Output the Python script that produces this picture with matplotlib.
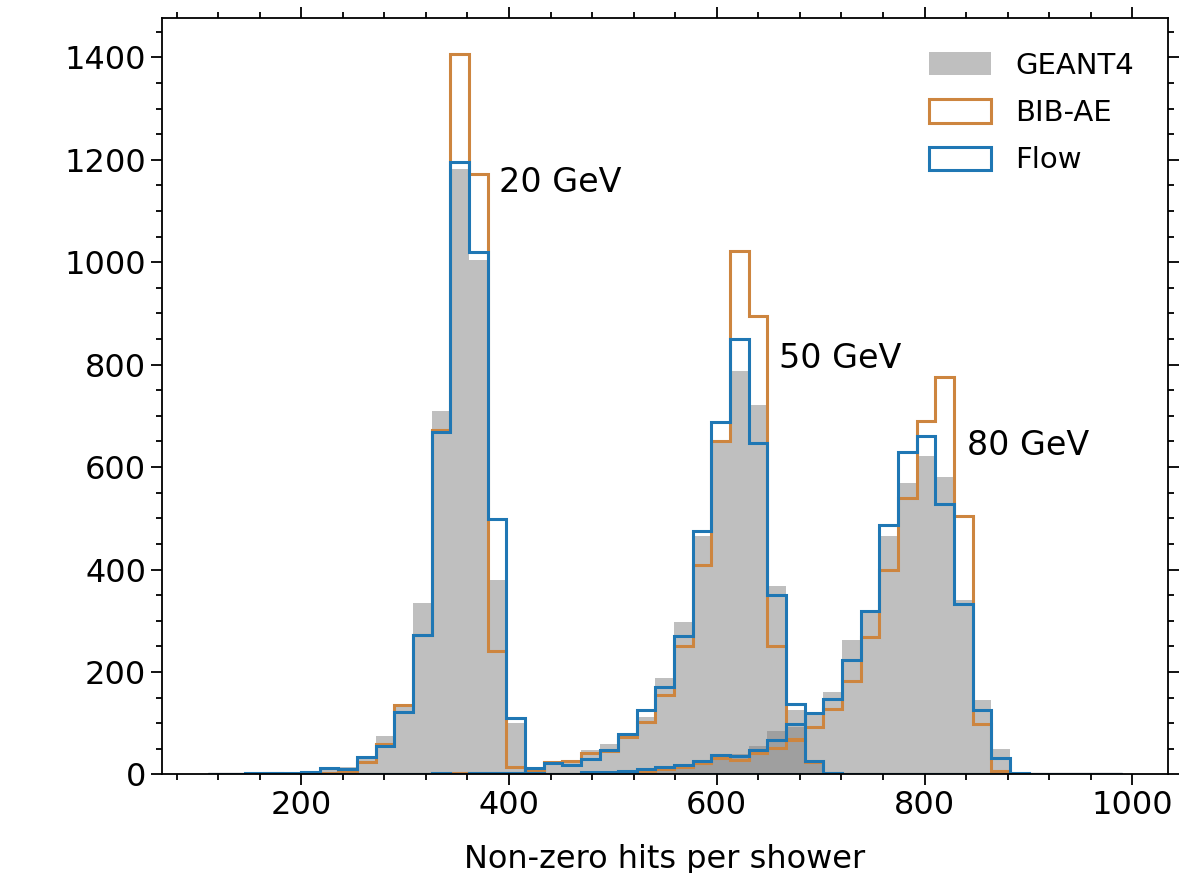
import numpy as np
import matplotlib
matplotlib.use("Agg")
import matplotlib.pyplot as plt
from matplotlib.ticker import MultipleLocator

# ---- data -------------------------------------------------------------
bin_edges = np.linspace(110, 990, 50)   # 49 bins
n_bins = len(bin_edges) - 1

def fill(d):
    arr = np.zeros(n_bins)
    for k, v in d.items():
        arr[k] = v
    return arr

# GEANT4
geant4_20 = fill({3: 1, 4: 2, 5: 3, 6: 8, 7: 14, 8: 30, 9: 75, 10: 135, 11: 335, 12: 710,
                  13: 1182, 14: 1005, 15: 380, 16: 100, 17: 4})
geant4_50 = fill({11: 1, 12: 2, 13: 2, 14: 3, 15: 4, 16: 5, 17: 10, 18: 18, 19: 26, 20: 48,
                  21: 60, 22: 80, 23: 112, 24: 188, 25: 298, 26: 466, 27: 647, 28: 788,
                  29: 722, 30: 368, 31: 125, 32: 22, 33: 3})
geant4_80 = fill({20: 3, 21: 4, 22: 6, 23: 8, 24: 12, 25: 18, 26: 25, 27: 32, 28: 40, 29: 55,
                  30: 85, 31: 92, 32: 116, 33: 160, 34: 262, 35: 315, 36: 465, 37: 568,
                  38: 622, 39: 580, 40: 340, 41: 145, 42: 50, 43: 3})
# BIB-AE
bibae_20 = fill({3: 2, 4: 1, 5: 2, 6: 3, 7: 6, 8: 24, 9: 59, 10: 136, 11: 272, 12: 672,
                 13: 1406, 14: 1173, 15: 240, 16: 15, 17: 2})
bibae_50 = fill({11: 1, 12: 1, 13: 2, 14: 2, 15: 3, 16: 3, 17: 8, 18: 25, 19: 26, 20: 42,
                 21: 45, 22: 72, 23: 103, 24: 155, 25: 250, 26: 408, 27: 650, 28: 1021,
                 29: 895, 30: 250, 31: 70, 32: 25, 33: 3})
bibae_80 = fill({20: 2, 21: 3, 22: 5, 23: 7, 24: 10, 25: 15, 26: 23, 27: 31, 28: 29, 29: 42,
                 30: 51, 31: 68, 32: 92, 33: 128, 34: 182, 35: 268, 36: 400, 37: 540,
                 38: 690, 39: 775, 40: 505, 41: 98, 42: 7})
# Flow
flow_20 = fill({1: 1, 2: 2, 3: 3, 4: 3, 5: 5, 6: 13, 7: 11, 8: 33, 9: 55, 10: 122, 11: 272,
                12: 668, 13: 1196, 14: 1020, 15: 498, 16: 110, 17: 3})
flow_50 = fill({11: 1, 12: 2, 13: 1, 14: 2, 15: 3, 16: 3, 17: 13, 18: 22, 19: 19, 20: 30,
                21: 48, 22: 78, 23: 125, 24: 170, 25: 270, 26: 475, 27: 688, 28: 850,
                29: 648, 30: 351, 31: 137, 32: 26, 33: 3})
flow_80 = fill({20: 4, 21: 5, 22: 7, 23: 10, 24: 14, 25: 18, 26: 27, 27: 37, 28: 35, 29: 48,
                30: 68, 31: 99, 32: 119, 33: 147, 34: 223, 35: 319, 36: 486, 37: 630,
                38: 660, 39: 527, 40: 333, 41: 125, 42: 31, 43: 3})

energy_labels = ["20 GeV", "50 GeV", "80 GeV"]
label_pos = [(390, 1155), (660, 812), (841, 642)]
series_names = ["GEANT4", "BIB-AE", "Flow"]

# ---- plot -------------------------------------------------------------
plt.rcParams['font.family'] = ['DejaVu Sans']
fig = plt.figure(figsize=(12, 8.73), dpi=100)
ax = fig.add_axes([0.135, 0.113, 0.838, 0.866])

centers = 0.5 * (bin_edges[:-1] + bin_edges[1:])

for i, h in enumerate([geant4_20, geant4_50, geant4_80]):
    ax.hist(centers, bins=bin_edges, weights=h, histtype='stepfilled',
            color='grey', alpha=0.5, label=series_names[0] if i == 0 else None)
for i, h in enumerate([bibae_20, bibae_50, bibae_80]):
    ax.hist(centers, bins=bin_edges, weights=h, histtype='step',
            color='peru', linewidth=2.2, label=series_names[1] if i == 0 else None)
for i, h in enumerate([flow_20, flow_50, flow_80]):
    ax.hist(centers, bins=bin_edges, weights=h, histtype='step',
            color='#1f77b4', linewidth=2.2, label=series_names[2] if i == 0 else None)

for txt, (x, y) in zip(energy_labels, label_pos):
    ax.text(x, y, txt, fontsize=24, ha='left', va='center')

ax.set_xlabel("Non-zero hits per shower", fontsize=23, labelpad=16)
ax.xaxis.set_major_locator(MultipleLocator(200))
ax.xaxis.set_minor_locator(MultipleLocator(40))
ax.yaxis.set_major_locator(MultipleLocator(200))
ax.yaxis.set_minor_locator(MultipleLocator(50))
ax.tick_params(which='both', direction='out', top=True, right=True, labelsize=23, width=1.3)
ax.tick_params(which='major', length=8)
ax.tick_params(which='minor', length=4.5)
for s in ax.spines.values():
    s.set_linewidth(1.3)

leg = ax.legend(loc='upper right', fontsize=21, frameon=False,
                handlelength=2.1, handleheight=0.85, labelspacing=0.66,
                borderaxespad=0.75, handletextpad=0.85)

fig.savefig("out.png", dpi=100)
